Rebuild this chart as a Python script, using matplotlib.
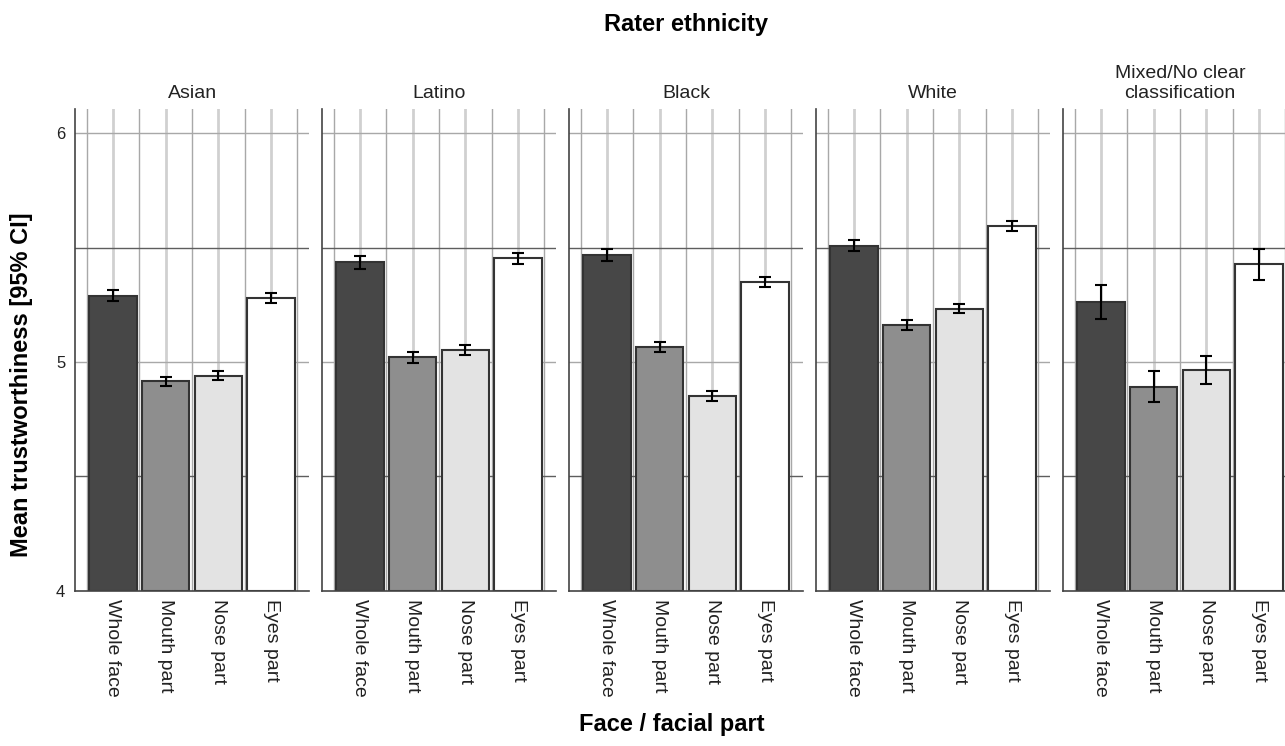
import matplotlib.pyplot as plt
import numpy as np

plt.rcParams["font.family"] = ["Liberation Sans", "DejaVu Sans"]

groups = ["Asian", "Latino", "Black", "White", "Mixed/No clear\nclassification"]
parts = ["Whole face", "Mouth part", "Nose part", "Eyes part"]

asian_mean = [5.29, 4.915, 4.94, 5.28]
latino_mean = [5.435, 5.02, 5.052, 5.453]
black_mean = [5.467, 5.067, 4.852, 5.35]
white_mean = [5.508, 5.162, 5.233, 5.594]
mixed_mean = [5.263, 4.892, 4.965, 5.426]

asian_ci = [0.025, 0.02, 0.02, 0.022]
latino_ci = [0.027, 0.024, 0.023, 0.025]
black_ci = [0.028, 0.022, 0.021, 0.022]
white_ci = [0.024, 0.022, 0.02, 0.023]
mixed_ci = [0.073, 0.068, 0.063, 0.069]

means = [asian_mean, latino_mean, black_mean, white_mean, mixed_mean]
cis = [asian_ci, latino_ci, black_ci, white_ci, mixed_ci]

bar_colors = ["#474747", "#8e8e8e", "#e3e3e3", "#ffffff"]

fig = plt.figure(figsize=(12.85, 7.46), dpi=100)

left, bottom, width, height, pitch = 0.0584, 0.2078, 0.1821, 0.6461, 0.1922
x = np.arange(len(parts))

for i, (g, m, c) in enumerate(zip(groups, means, cis)):
    ax = fig.add_axes([left + i * pitch, bottom, width, height])
    # grid lines drawn by hand so they sit behind the bars
    for xc in x:
        ax.axvline(xc, color="#d0d0d0", lw=2.0, zorder=0)
    for xb in np.arange(-0.5, len(parts), 1.0):
        ax.axvline(xb, color="#a8a8a8", lw=1.0, zorder=0)
    for yv in [5.0, 6.0]:
        ax.axhline(yv, color="#a8a8a8", lw=1.0, zorder=0)
    for yv in [4.5, 5.5]:
        ax.axhline(yv, color="#5e5e5e", lw=1.0, zorder=0)

    ax.bar(x, np.array(m) - 4, bottom=4, width=0.9, color=bar_colors,
           edgecolor="#333333", linewidth=1.5, zorder=2)
    ax.errorbar(x, m, yerr=c, fmt="none", ecolor="black", elinewidth=1.5,
                capsize=4.5, capthick=1.5, zorder=3)

    ax.set_xlim(-0.72, 3.72)
    ax.set_ylim(4, 6.105)
    ax.set_xticks(x)
    ax.set_xticklabels(parts, rotation=270, fontsize=14, color="#222222")
    ax.tick_params(axis="x", length=0, pad=6)
    ax.set_yticks([4, 5, 6])
    if i == 0:
        ax.set_yticklabels(["4", "5", "6"], fontsize=12, color="#222222")
        ax.tick_params(axis="y", length=0, pad=7)
    else:
        ax.set_yticklabels([])
        ax.tick_params(axis="y", length=0)
    for s in ["top", "right"]:
        ax.spines[s].set_visible(False)
    ax.spines["left"].set_color("#444444")
    ax.spines["bottom"].set_color("#444444")
    ax.spines["left"].set_linewidth(1.2)
    ax.spines["bottom"].set_linewidth(1.2)
    ax.set_title(g, fontsize=14, color="#222222", pad=8, linespacing=1.25)

fig.text(0.534, 1 - 25 / 746, "Rater ethnicity", fontsize=17, fontweight="bold",
         ha="center", va="center")
fig.text(0.523, 1 - 725 / 746, "Face / facial part", fontsize=17, fontweight="bold",
         ha="center", va="center")
fig.text(22 / 1285, 1 - 385 / 746, "Mean trustworthiness [95% CI]", fontsize=17,
         fontweight="bold", rotation=90, ha="center", va="center")

fig.savefig("out.png", dpi=100)
